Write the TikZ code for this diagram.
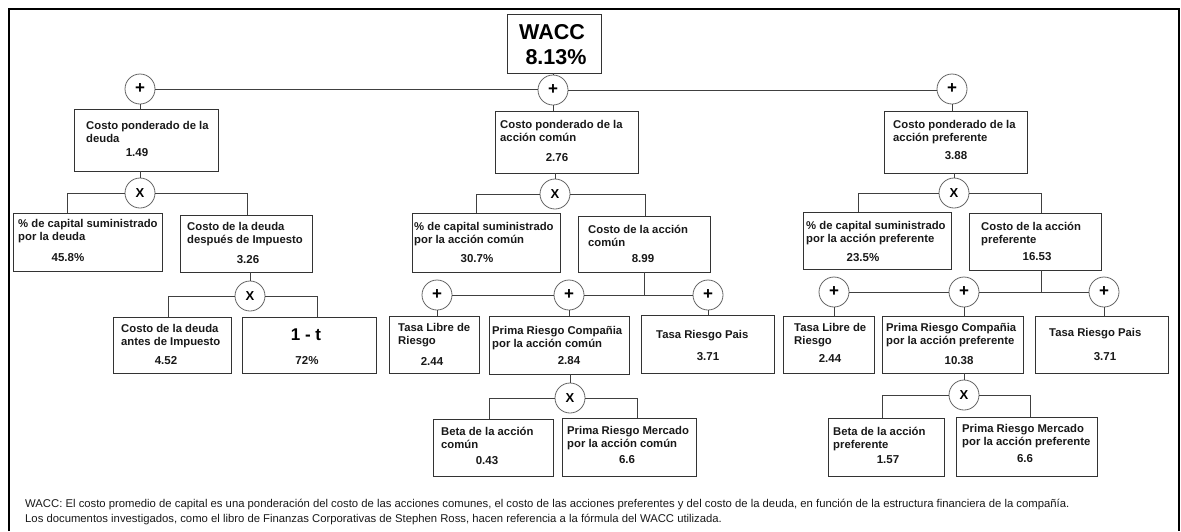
\documentclass[tikz,border=0pt]{standalone}
\usepackage{fontspec}
\setmainfont{Liberation Sans}
\newcommand\mkbox[5]{\node[box, minimum width={#4-#2}, minimum height={#5-#3}] (#1) at ({(#2+#4)/2},{(#3+#5)/2}) {};}
\begin{document}
\begin{tikzpicture}[x=1pt,y=-1pt,
  box/.style={draw=black!80, line width=0.8pt, inner sep=0pt, fill=white},
  op/.style={circle, draw=black!60, line width=0.8pt, minimum size=30pt, inner sep=0pt, fill=white, font=\bfseries\fontsize{13}{13}\selectfont},
  plus/.style={op, font=\bfseries\fontsize{17}{17}\selectfont},
  lbl/.style={anchor=north west, inner sep=0pt, align=left, font=\bfseries\fontsize{11.3}{13.5}\selectfont, text=black!90},
  val/.style={inner sep=0pt, font=\bfseries\fontsize{11.5}{13.5}\selectfont, text=black!90},
  wire/.style={draw=black!75, line width=0.8pt}]
\useasboundingbox (0,0) rectangle (1181,531);
\fill[white] (0,0) rectangle (1181,531);
\draw[line width=2pt] (9,531) -- (9,9) -- (1179,9) -- (1179,531);

% boxes
\mkbox{W}{507}{14}{601}{73}
\mkbox{A}{74}{109}{218}{171}
\mkbox{B}{495}{111}{638}{173}
\mkbox{C}{884}{111}{1027}{173}
\mkbox{A1}{13}{213}{162}{271}
\mkbox{A2}{180}{215}{312}{272}
\mkbox{A3}{113}{317}{231}{373}
\mkbox{A4}{242}{317}{376}{373}
\mkbox{B1}{412}{213}{560}{272}
\mkbox{B2}{578}{216}{710}{272}
\mkbox{B3}{389}{316}{479}{373}
\mkbox{B4}{489}{316}{629}{374}
\mkbox{B5}{641}{315}{774}{373}
\mkbox{B6}{433}{419}{553}{476}
\mkbox{B7}{562}{418}{696}{476}
\mkbox{C1}{803}{212}{951}{269}
\mkbox{C2}{969}{213}{1101}{270}
\mkbox{C3}{783}{316}{874}{373}
\mkbox{C4}{882}{316}{1023}{373}
\mkbox{C5}{1035}{316}{1168}{373}
\mkbox{C6}{828}{418}{944}{476}
\mkbox{C7}{956}{417}{1097}{476}

% operator circles
\node[plus] (p1) at (140,89) {+};
\node[plus] (p2) at (553,90) {+};
\node[plus] (p3) at (952,89) {+};
\node[op] (x1) at (140,193) {X};
\node[op] (x2) at (555,194) {X};
\node[op] (x3) at (954,193) {X};
\node[op] (x4) at (250,296) {X};
\node[plus] (q1) at (437,295) {+};
\node[plus] (q2) at (569,295) {+};
\node[plus] (q3) at (708,295) {+};
\node[op] (x5) at (570,398) {X};
\node[plus] (r1) at (834,292) {+};
\node[plus] (r2) at (964,292) {+};
\node[plus] (r3) at (1104,292) {+};
\node[op] (x6) at (964,395) {X};

% connectors
\draw[wire] (W.south -| p2.north) -- (p2.north);
\draw[wire] (p1.east) -- (p1.east -| p2.west);
\draw[wire] (p2.east) -- (p2.east -| p3.west);
\draw[wire] (p1.south) -- (p1.south |- A.north);
\draw[wire] (p2.south) -- (p2.south |- B.north);
\draw[wire] (p3.south) -- (p3.south |- C.north);
\draw[wire] (x1.north) -- (x1.north |- A.south);
\draw[wire] (x2.north) -- (x2.north |- B.south);
\draw[wire] (x3.north) -- (x3.north |- C.south);
\draw[wire] (x1.west) -| ([xshift=55pt]A1.north west);
\draw[wire] (x1.east) -| ([xshift=68pt]A2.north west);
\draw[wire] (x4.north) -- (x4.north |- A2.south);
\draw[wire] (x4.west) -| ([xshift=56pt]A3.north west);
\draw[wire] (x4.east) -| ([xshift=76pt]A4.north west);
\draw[wire] (x2.west) -| ([xshift=65pt]B1.north west);
\draw[wire] (x2.east) -| ([xshift=68pt]B2.north west);
\coordinate (j1) at ([xshift=67pt]B2.south west);
\draw[wire] (j1) -- (j1 |- q2.east);
\draw[wire] (q1.east) -- (q2.west);
\draw[wire] (q2.east) -- (q3.west);
\draw[wire] (q1.south) -- (q1.south |- B3.north);
\draw[wire] (q2.south) -- (q2.south |- B4.north);
\draw[wire] (q3.south) -- (q3.south |- B5.north);
\draw[wire] (x5.north) -- (x5.north |- B4.south);
\draw[wire] (x5.west) -| ([xshift=57pt]B6.north west);
\draw[wire] (x5.east) -| ([xshift=76pt]B7.north west);
\draw[wire] (x3.west) -| ([xshift=56pt]C1.north west);
\draw[wire] (x3.east) -| ([xshift=73pt]C2.north west);
\coordinate (j2) at ([xshift=73pt]C2.south west);
\draw[wire] (j2) -- (j2 |- r2.east);
\draw[wire] (r1.east) -- (r2.west);
\draw[wire] (r2.east) -- (r3.west);
\draw[wire] (r1.south) -- (r1.south |- C3.north);
\draw[wire] (r2.south) -- (r2.south |- C4.north);
\draw[wire] (r3.south) -- (r3.south |- C5.north);
\draw[wire] (x6.north) -- (x6.north |- C4.south);
\draw[wire] (x6.west) -| ([xshift=55pt]C6.north west);
\draw[wire] (x6.east) -| ([xshift=75pt]C7.north west);

% texts
\node[inner sep=0pt, font=\bfseries\fontsize{21.5}{21.5}\selectfont] (Wt) at (552,32) {WACC};
\node[inner sep=0pt, font=\bfseries\fontsize{21.5}{21.5}\selectfont] (Wv) at (556,57) {8.13\%};

\node[lbl] (At) at (86,121) {Costo ponderado de la\\deuda};
\node[val] (Av) at (137,153) {1.49};
\node[lbl] (Bt) at (500,120) {Costo ponderado de la\\acción común};
\node[val] (Bv) at (557,158) {2.76};
\node[lbl] (Ct) at (893,120) {Costo ponderado de la\\acción preferente};
\node[val] (Cv) at (956,156) {3.88};

\node[lbl] (A1t) at (18,219) {\% de capital suministrado\\por la deuda};
\node[val] (A1v) at (68,258) {45.8\%};
\node[lbl] (A2t) at (187,222) {Costo de la deuda\\después de Impuesto};
\node[val] (A2v) at (248,260) {3.26};
\node[lbl] (A3t) at (121,324) {Costo de la deuda\\antes de Impuesto};
\node[val] (A3v) at (166,361) {4.52};
\node[inner sep=0pt, font=\bfseries\fontsize{17}{17}\selectfont] (A4t) at (306,335) {1 - t};
\node[val] (A4v) at (307,361) {72\%};

\node[lbl] (B1t) at (414,222) {\% de capital suministrado\\por la acción común};
\node[val] (B1v) at (477,259) {30.7\%};
\node[lbl] (B2t) at (588,225) {Costo de la acción\\común};
\node[val] (B2v) at (643,259) {8.99};
\node[lbl] (B3t) at (398,323) {Tasa Libre de\\Riesgo};
\node[val] (B3v) at (432,361) {2.44};
\node[lbl] (B4t) at (492,326) {Prima Riesgo Compañia\\por la acción común};
\node[val] (B4v) at (569,361) {2.84};
\node[lbl] (B5t) at (656,330) {Tasa Riesgo Pais};
\node[val] (B5v) at (708,357) {3.71};
\node[lbl] (B6t) at (441,427) {Beta de la acción\\común};
\node[val] (B6v) at (487,461) {0.43};
\node[lbl] (B7t) at (567,426) {Prima Riesgo Mercado\\por la acción común};
\node[val] (B7v) at (627,460) {6.6};

\node[lbl] (C1t) at (806,221) {\% de capital suministrado\\por la acción preferente};
\node[val] (C1v) at (863,258) {23.5\%};
\node[lbl] (C2t) at (981,222) {Costo de la acción\\preferente};
\node[val] (C2v) at (1037,257) {16.53};
\node[lbl] (C3t) at (794,323) {Tasa Libre de\\Riesgo};
\node[val] (C3v) at (830,358) {2.44};
\node[lbl] (C4t) at (886,323) {Prima Riesgo Compañia\\por la acción preferente};
\node[val] (C4v) at (959,361) {10.38};
\node[lbl] (C5t) at (1049,328) {Tasa Riesgo Pais};
\node[val] (C5v) at (1105,357) {3.71};
\node[lbl] (C6t) at (833,427) {Beta de la acción\\preferente};
\node[val] (C6v) at (888,460) {1.57};
\node[lbl] (C7t) at (962,424) {Prima Riesgo Mercado\\por la acción preferente};
\node[val] (C7v) at (1025,459) {6.6};

\node[anchor=north west, inner sep=0pt, align=left, font=\fontsize{11.3}{15}\selectfont, text=black!90] (note) at (25,499) {WACC: El costo promedio de capital es una ponderación del costo de las acciones comunes, el costo de las acciones preferentes y del costo de la deuda, en función de la estructura financiera de la compañía.\\Los documentos investigados, como el libro de Finanzas Corporativas de Stephen Ross, hacen referencia a la fórmula del WACC utilizada.};
\end{tikzpicture}
\end{document}
